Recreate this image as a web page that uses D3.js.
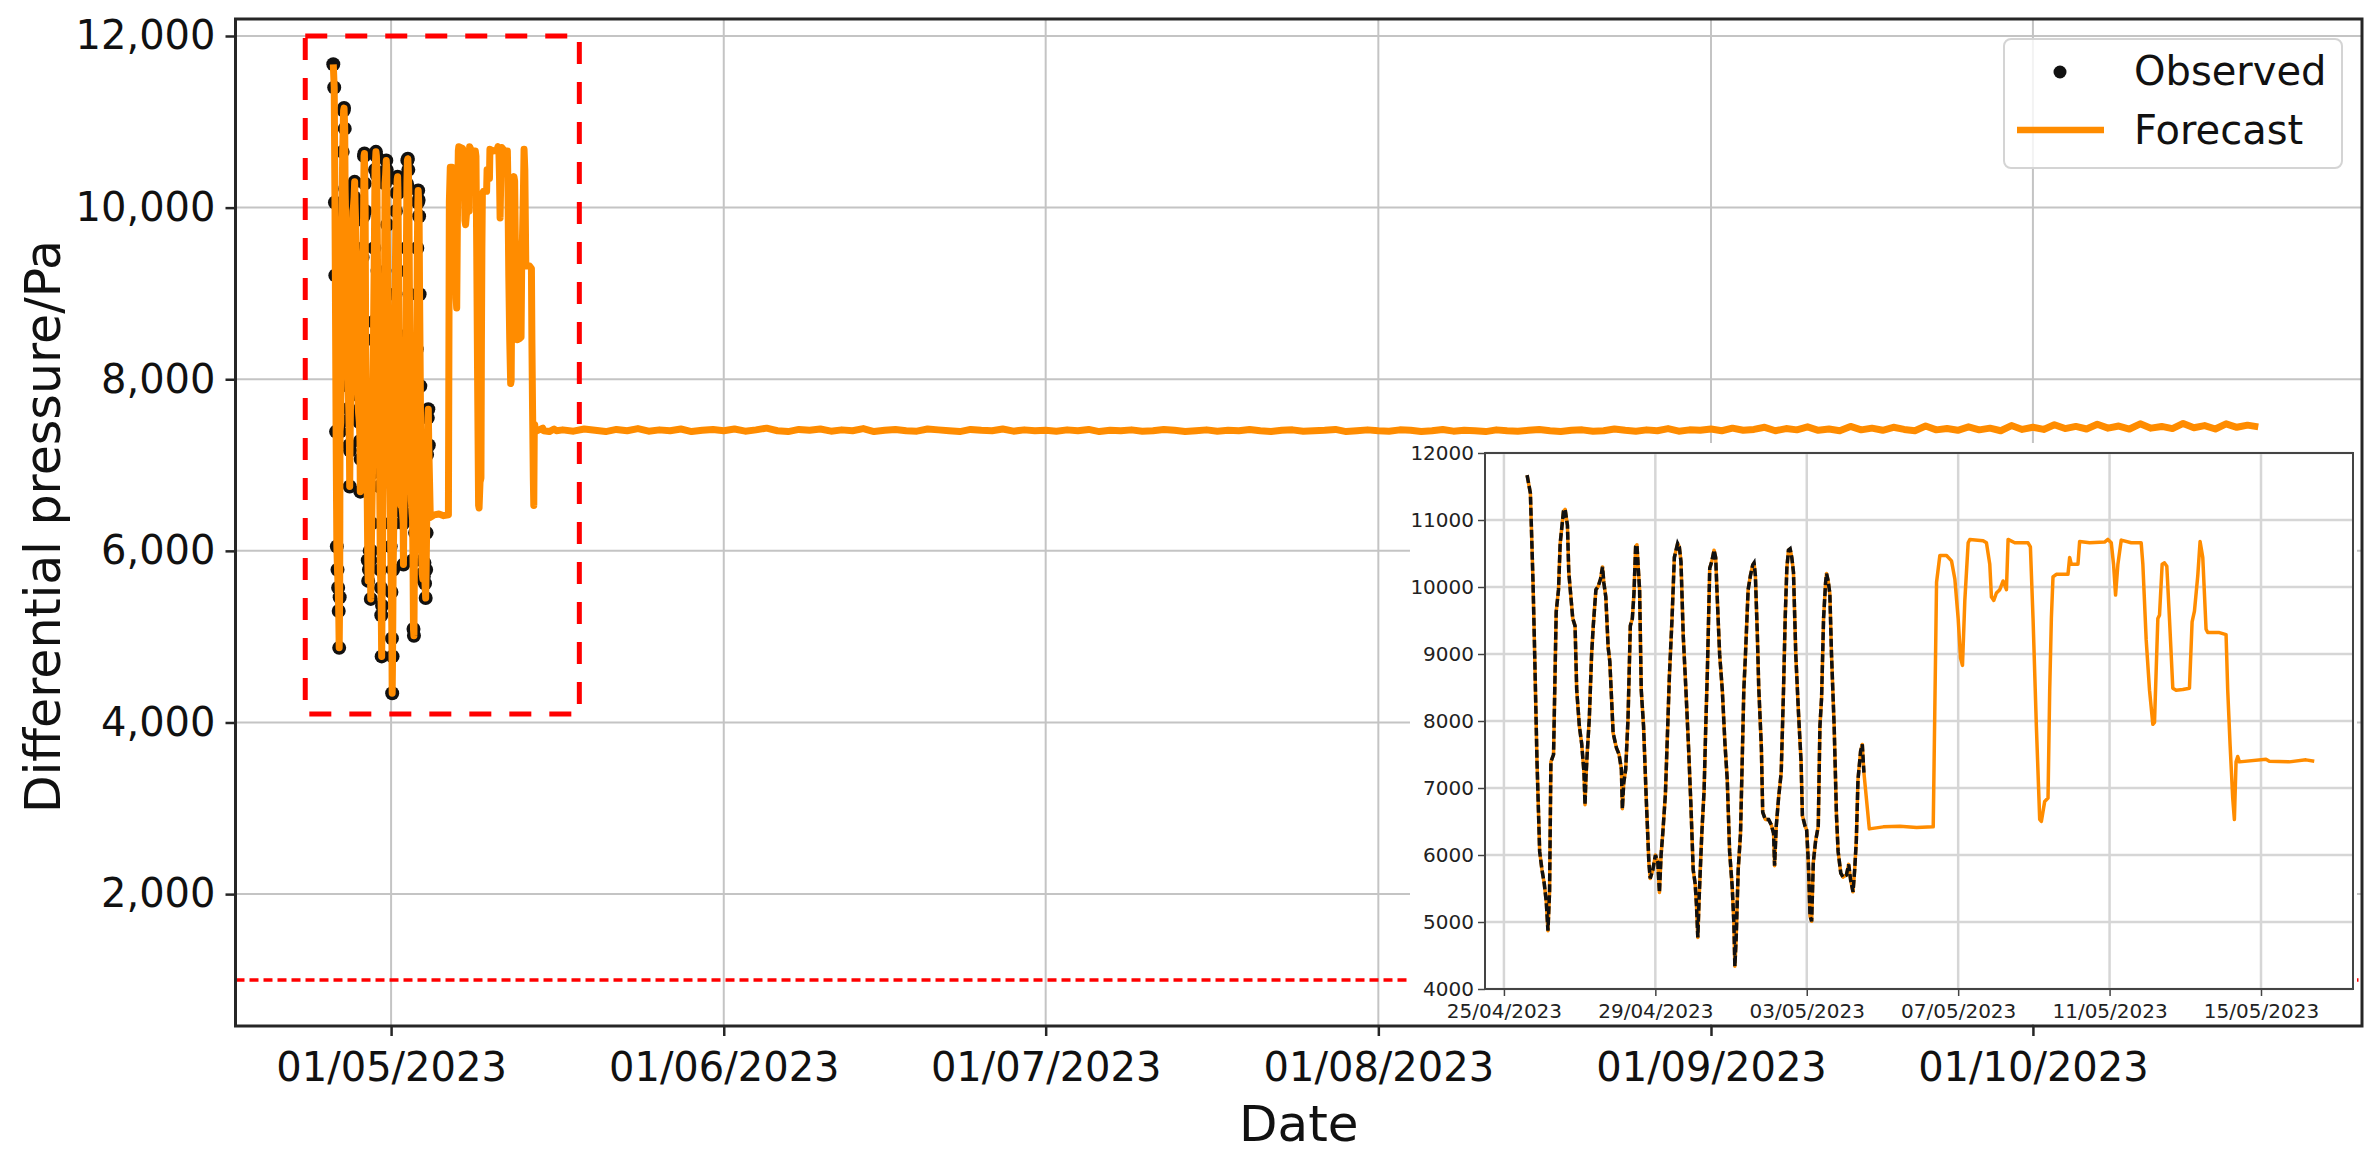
<!DOCTYPE html>
<html>
<head>
<meta charset="utf-8">
<script src="https://cdn.jsdelivr.net/npm/d3@7"></script>
<style>
  html, body { margin: 0; padding: 0; background: #fff; }
  svg { display: block; font-family: 'DejaVu Sans', sans-serif; }
</style>
</head>
<body>
<svg id="chart" width="2379" height="1160"></svg>
<script>
// ---- data (days are counted from firstDay 00:00) ----
const firstDay = '25/04/2023';

const observedDay = [
  0.612, 0.699, 0.769, 0.804, 0.874, 0.944, 1.005, 1.066, 1.119, 1.163,
  1.206, 1.241, 1.311, 1.381, 1.442, 1.486, 1.573, 1.617, 1.678, 1.713,
  1.818, 1.879, 1.923, 1.993, 2.054, 2.115, 2.142, 2.168, 2.203, 2.255,
  2.316, 2.360, 2.430, 2.491, 2.552, 2.605, 2.640, 2.692, 2.753, 2.797,
  2.885, 2.972, 3.042, 3.103, 3.129, 3.164, 3.217, 3.278, 3.339, 3.392,
  3.435, 3.479, 3.514, 3.549, 3.584, 3.628, 3.689, 3.759, 3.829, 3.864,
  3.934, 4.003, 4.065, 4.108, 4.152, 4.196, 4.266, 4.327, 4.371, 4.441,
  4.502, 4.589, 4.633, 4.677, 4.738, 4.808, 4.878, 4.939, 5.000, 5.052,
  5.087, 5.122, 5.157, 5.227, 5.288, 5.332, 5.376, 5.437, 5.490, 5.551,
  5.594, 5.638, 5.699, 5.769, 5.839, 5.900, 5.962, 6.031, 6.075, 6.101,
  6.136, 6.189, 6.250, 6.294, 6.337, 6.381, 6.451, 6.512, 6.573, 6.608,
  6.643, 6.696, 6.731, 6.801, 6.836, 6.906, 6.993, 7.063, 7.124, 7.150,
  7.194, 7.255, 7.325, 7.386, 7.430, 7.474, 7.517, 7.561, 7.605, 7.649,
  7.710, 7.780, 7.850, 7.885, 7.955, 7.998, 8.042, 8.086, 8.129, 8.173,
  8.234, 8.304, 8.348, 8.392, 8.444, 8.497, 8.523, 8.566, 8.610, 8.654,
  8.724, 8.785, 8.829, 8.899, 8.960, 9.047, 9.108, 9.161, 9.222, 9.266,
  9.309, 9.353, 9.423, 9.467, 9.510
];
const observedValue = [
  11670, 11400, 10060, 9210, 7390, 6050, 5780, 5570, 5300, 4870,
  5460, 7390, 7500, 9630, 9960, 10650, 11130, 11160, 10920, 10220,
  9530, 9420, 8460, 7920, 7660, 7230, 6750, 7170, 7550, 8030,
  8990, 9420, 9960, 10010, 10120, 10300, 10060, 9850, 9100, 8890,
  7820, 7600, 7500, 7280, 6690, 7070, 7280, 8030, 9420, 9530,
  9900, 10600, 10630, 10280, 9960, 8460, 7920, 6850, 5890, 5650,
  5780, 6000, 5890, 5440, 6000, 6320, 6910, 7920, 8670, 9530,
  10440, 10650, 10600, 10380, 9260, 8460, 7600, 6750, 5780, 5570,
  5250, 4770, 5360, 6320, 6960, 7920, 8780, 10280, 10380, 10550,
  10440, 9800, 8990, 8460, 7660, 7120, 6050, 5520, 4980, 4340,
  4770, 5780, 6320, 7390, 8460, 8990, 9960, 10170, 10330, 10360,
  10170, 9260, 8510, 7600, 6640, 6530, 6530, 6450, 6320, 5840,
  6430, 6850, 7230, 8460, 9530, 10280, 10550, 10570, 10440, 10220,
  8990, 8140, 7390, 6590, 6430, 6370, 5890, 5090, 5010, 5890,
  6210, 6430, 7920, 8350, 9530, 10060, 10200, 10090, 9900, 8990,
  7920, 6590, 6050, 5730, 5670, 5700, 5860, 5620, 5450, 5780,
  6210, 7120, 7550, 7650, 7230
];

const forecastDay = [
  9.653, 10.022, 10.462, 10.901, 11.341, 11.429, 11.516, 11.692, 11.824, 11.912,
  12.000, 12.062, 12.114, 12.176, 12.264, 12.308, 12.659, 12.747, 12.835, 12.879,
  12.941, 13.011, 13.099, 13.187, 13.275, 13.319, 13.495, 13.846, 13.908, 13.978,
  14.066, 14.154, 14.198, 14.286, 14.374, 14.418, 14.462, 14.505, 14.593, 14.901,
  14.945, 14.989, 15.165, 15.209, 15.473, 15.868, 15.956, 16.044, 16.105, 16.158,
  16.220, 16.308, 16.571, 16.835, 16.879, 16.967, 17.055, 17.143, 17.187, 17.275,
  17.319, 17.389, 17.451, 17.512, 17.582, 17.670, 17.758, 17.934, 18.110, 18.180,
  18.242, 18.330, 18.391, 18.462, 18.549, 18.593, 18.901, 19.077, 19.121, 19.183,
  19.253, 19.297, 19.341, 19.385, 19.429, 20.132, 20.220, 20.747, 21.187, 21.407
];
const forecastValue = [
  6390, 6420, 6430, 6410, 6420, 10070, 10470, 10470, 10390, 10120,
  9530, 8940, 8830, 9800, 10660, 10710, 10690, 10660, 10340, 9850,
  9800, 9910, 9960, 10090, 9960, 10710, 10660, 10660, 10600, 9530,
  7920, 6530, 6500, 6800, 6850, 8460, 9530, 10150, 10190, 10190,
  10440, 10340, 10340, 10680, 10660, 10670, 10710, 10660, 10340, 9880,
  10340, 10700, 10660, 10660, 10340, 9210, 8460, 7950, 7980, 9530,
  9580, 10340, 10360, 10310, 9530, 8490, 8460, 8470, 8490, 9480,
  9640, 10170, 10680, 10440, 9370, 9320, 9320, 9290, 8460, 7650,
  6850, 6530, 7390, 7470, 7390, 7430, 7400, 7390, 7420, 7400
];

// daily forecast after the zoomed window
const tailStart = '17/05/2023';
const tailValue = [
  7410, 7395, 7420, 7405, 7390, 7415, 7400, 7425, 7395, 7410, 7400, 7420, 7390, 7405, 7415,
  7400, 7420, 7395, 7410, 7430, 7400, 7390, 7415, 7405, 7420, 7395, 7410, 7400, 7425, 7390,
  7405, 7415, 7400, 7395, 7420, 7410, 7400, 7390, 7415, 7405, 7400, 7420, 7395, 7410, 7400,
  7405, 7395, 7410, 7400, 7415, 7390, 7405, 7400, 7410, 7395, 7400, 7415, 7405, 7390, 7400,
  7410, 7395, 7405, 7400, 7415, 7400, 7390, 7405, 7410, 7395, 7400, 7405, 7415, 7390, 7400, 7410,
  7400, 7395, 7410, 7405, 7390, 7400, 7415, 7395, 7405, 7400, 7390, 7410, 7400, 7395, 7405,
  7415, 7400, 7390, 7405, 7410, 7395, 7400, 7420, 7405, 7395, 7410, 7400, 7425, 7395, 7410, 7405,
  7420, 7400, 7430, 7405, 7415, 7440, 7400, 7425, 7410, 7445, 7405, 7420, 7400, 7450, 7410,
  7430, 7405, 7440, 7415, 7400, 7455, 7410, 7425, 7405, 7445, 7410, 7430, 7400, 7460, 7415,
  7440, 7415, 7470, 7425, 7450, 7420, 7475, 7430, 7455, 7420, 7480, 7430, 7450, 7425, 7485,
  7435, 7460, 7420, 7480, 7440, 7465, 7445
];

const alarmLevel = 1000;
const zoomBoxTime = ['23/04/2023 00:00', '18/05/2023 13:00'];
const zoomBoxPressure = [4100, 12000];

const mainTimeLimits = ['16/04/2023 12:00', '31/10/2023 16:00'];
const mainPressureLimits = [463, 12198];
const mainDateTicks = ['01/05/2023', '01/06/2023', '01/07/2023', '01/08/2023', '01/09/2023', '01/10/2023'];
const mainPressureTicks = [2000, 4000, 6000, 8000, 10000, 12000];

const insetTimeLimits = ['24/04/2023 12:00', '17/05/2023 10:20'];
const insetPressureLimits = [4000, 12000];
const insetDateTicks = ['25/04/2023', '29/04/2023', '03/05/2023', '07/05/2023', '11/05/2023', '15/05/2023'];
const insetPressureTicks = [4000, 5000, 6000, 7000, 8000, 9000, 10000, 11000, 12000];

const seriesNames = ['Observed', 'Forecast'];

// ---- build series ----
const parseDay = d3.timeParse('%d/%m/%Y');
const parseStamp = d3.timeParse('%d/%m/%Y %H:%M');
const fmtDay = d3.timeFormat('%d/%m/%Y');
const t0 = parseDay(firstDay);
const atDay = d => new Date(+t0 + d * 864e5);

const observed = observedDay.map((d, i) => ({ t: atDay(d), v: observedValue[i] }));
const ahead = forecastDay.map((d, i) => ({ t: atDay(d), v: forecastValue[i] }));
const tail = tailValue.map((v, i) => ({ t: d3.timeDay.offset(parseDay(tailStart), i), v }));
const forecastShort = observed.concat(ahead);
const forecastFull = forecastShort.concat(tail);

const ORANGE = '#ff8c00';
const svg = d3.select('#chart');

// ---- main axes ----
const M = { left: 235.5, right: 2362, top: 19, bottom: 1026 };
const x = d3.scaleTime().domain(mainTimeLimits.map(parseStamp)).range([M.left, M.right]);
const y = d3.scaleLinear().domain(mainPressureLimits).range([M.bottom, M.top]);

svg.append('defs').append('clipPath').attr('id', 'clipMain')
  .append('rect').attr('x', M.left).attr('y', M.top)
  .attr('width', M.right - M.left).attr('height', M.bottom - M.top);

const grid = svg.append('g').attr('stroke', '#c4c4c4').attr('stroke-width', 2);
grid.selectAll('.gx').data(mainDateTicks.map(parseDay)).enter().append('line')
  .attr('x1', d => x(d)).attr('x2', d => x(d)).attr('y1', M.top).attr('y2', M.bottom);
grid.selectAll('.gy').data(mainPressureTicks).enter().append('line')
  .attr('x1', M.left).attr('x2', M.right).attr('y1', d => y(d)).attr('y2', d => y(d));

const plot = svg.append('g').attr('clip-path', 'url(#clipMain)');

// alarm threshold
plot.append('line')
  .attr('x1', M.left).attr('x2', M.right)
  .attr('y1', y(alarmLevel)).attr('y2', y(alarmLevel))
  .attr('stroke', 'red').attr('stroke-width', 3.5).attr('stroke-dasharray', '9,5');

// zoom window
const bt = zoomBoxTime.map(parseStamp);
plot.append('rect')
  .attr('x', x(bt[0])).attr('y', y(zoomBoxPressure[1]))
  .attr('width', x(bt[1]) - x(bt[0]))
  .attr('height', y(zoomBoxPressure[0]) - y(zoomBoxPressure[1]))
  .attr('fill', 'none').attr('stroke', 'red').attr('stroke-width', 5)
  .attr('stroke-dasharray', '22,18');

// observed markers
plot.selectAll('.obs').data(observed).enter().append('circle')
  .attr('cx', d => x(d.t)).attr('cy', d => y(d.v)).attr('r', 7)
  .attr('fill', '#111');

// forecast line
const lineMain = d3.line().x(d => x(d.t)).y(d => y(d.v));
plot.append('path').datum(forecastFull)
  .attr('d', lineMain).attr('fill', 'none')
  .attr('stroke', ORANGE).attr('stroke-width', 7)
  .attr('stroke-linejoin', 'round');

// ---- inset ----
svg.append('rect').attr('x', 1410).attr('y', 443)
  .attr('width', 947).attr('height', 581).attr('fill', '#fff');

const I = { left: 1485, right: 2353, top: 453, bottom: 989 };
const xi = d3.scaleTime().domain(insetTimeLimits.map(parseStamp)).range([I.left, I.right]);
const yi = d3.scaleLinear().domain(insetPressureLimits).range([I.bottom, I.top]);

svg.select('defs').append('clipPath').attr('id', 'clipInset')
  .append('rect').attr('x', I.left).attr('y', I.top)
  .attr('width', I.right - I.left).attr('height', I.bottom - I.top);

const igrid = svg.append('g').attr('stroke', '#d6d6d6').attr('stroke-width', 2.5);
igrid.selectAll('.gx').data(insetDateTicks.map(parseDay)).enter().append('line')
  .attr('x1', d => xi(d)).attr('x2', d => xi(d)).attr('y1', I.top).attr('y2', I.bottom);
igrid.selectAll('.gy').data(insetPressureTicks).enter().append('line')
  .attr('x1', I.left).attr('x2', I.right).attr('y1', d => yi(d)).attr('y2', d => yi(d));

const iplot = svg.append('g').attr('clip-path', 'url(#clipInset)');
const lineInset = d3.line().x(d => xi(d.t)).y(d => yi(d.v));
iplot.append('path').datum(forecastShort)
  .attr('d', lineInset).attr('fill', 'none')
  .attr('stroke', ORANGE).attr('stroke-width', 3.5).attr('stroke-linejoin', 'round');
iplot.append('path').datum(observed)
  .attr('d', lineInset).attr('fill', 'none')
  .attr('stroke', '#111').attr('stroke-width', 3.5).attr('stroke-dasharray', '8,3');

const iyAxis = svg.append('g').attr('transform', `translate(${I.left},0)`)
  .call(d3.axisLeft(yi).tickValues(insetPressureTicks).tickFormat(d3.format('d')).tickSize(7).tickPadding(4));
const ixAxis = svg.append('g').attr('transform', `translate(0,${I.bottom})`)
  .call(d3.axisBottom(xi).tickValues(insetDateTicks.map(parseDay)).tickFormat(fmtDay).tickSize(7).tickPadding(8));
[iyAxis, ixAxis].forEach(g => {
  g.select('.domain').remove();
  g.selectAll('text').attr('font-size', 20).attr('font-family', 'DejaVu Sans').attr('fill', '#222');
  g.selectAll('line').attr('stroke', '#444').attr('stroke-width', 1.5);
});
svg.append('rect').attr('x', I.left).attr('y', I.top)
  .attr('width', I.right - I.left).attr('height', I.bottom - I.top)
  .attr('fill', 'none').attr('stroke', '#444').attr('stroke-width', 2);

// ---- main axes on top ----
const yAxis = svg.append('g').attr('transform', `translate(${M.left},0)`)
  .call(d3.axisLeft(y).tickValues(mainPressureTicks).tickFormat(d3.format(',')).tickSize(10).tickPadding(10));
const xAxis = svg.append('g').attr('transform', `translate(0,${M.bottom})`)
  .call(d3.axisBottom(x).tickValues(mainDateTicks.map(parseDay)).tickFormat(fmtDay).tickSize(10).tickPadding(16.5));
[yAxis, xAxis].forEach(g => {
  g.select('.domain').remove();
  g.selectAll('text').attr('font-size', 40).attr('font-family', 'DejaVu Sans').attr('fill', '#111');
  g.selectAll('line').attr('stroke', '#262626').attr('stroke-width', 2.5);
});
svg.append('rect').attr('x', M.left).attr('y', M.top)
  .attr('width', M.right - M.left).attr('height', M.bottom - M.top)
  .attr('fill', 'none').attr('stroke', '#262626').attr('stroke-width', 3);

svg.append('text')
  .attr('x', (M.left + M.right) / 2).attr('y', 1141)
  .attr('text-anchor', 'middle').attr('font-size', 50).attr('fill', '#111')
  .text('Date');
svg.append('text')
  .attr('transform', `translate(60,${(M.top + M.bottom) / 2 + 4}) rotate(-90)`)
  .attr('text-anchor', 'middle').attr('font-size', 49).attr('fill', '#111')
  .text('Differential pressure/Pa');

// ---- legend ----
const lg = svg.append('g').attr('transform', 'translate(2004,39)');
lg.append('rect').attr('width', 338).attr('height', 129).attr('rx', 7)
  .attr('fill', '#fff').attr('fill-opacity', 0.8)
  .attr('stroke', '#d4d4d4').attr('stroke-width', 2);
lg.append('circle').attr('cx', 56).attr('cy', 33).attr('r', 6.5).attr('fill', '#111');
lg.append('line').attr('x1', 13).attr('x2', 100).attr('y1', 91).attr('y2', 91)
  .attr('stroke', ORANGE).attr('stroke-width', 6.5);
lg.selectAll('.lt').data(seriesNames).enter().append('text')
  .attr('x', 130).attr('y', (d, i) => 46 + i * 59)
  .attr('font-size', 40).attr('fill', '#111')
  .text(d => d);
</script>
</body>
</html>
